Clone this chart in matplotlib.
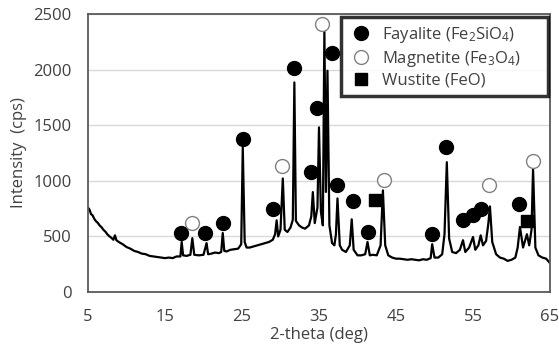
import matplotlib
matplotlib.use("Agg")
import matplotlib.pyplot as plt

plt.rcParams['font.family'] = ['Open Sans', 'DejaVu Sans']
plt.rcParams['mathtext.fontset'] = 'custom'
plt.rcParams['mathtext.rm'] = 'Open Sans'
plt.rcParams['mathtext.it'] = 'Open Sans:italic'

# XRD trace (2-theta, cps)
trace_x = [5.0, 5.2, 5.4, 5.6, 5.8, 6.0, 6.3, 6.5, 6.8, 7.0, 7.3, 7.5, 7.8, 8.0, 8.3,
           8.5, 8.7, 9.0, 9.5, 10.0, 10.5, 11.0, 11.5, 12.0, 12.5, 13.0, 13.5, 14.0,
           14.5, 15.0, 15.5, 16.0, 16.5, 17.0, 17.17, 17.35, 17.8, 18.3, 18.55, 18.8,
           19.4, 20.0, 20.4, 20.6, 21.0, 21.5, 22.0, 22.3, 22.5, 22.7, 23.0, 23.5, 24.0,
           24.5, 24.9, 25.1, 25.35, 25.6, 26.0, 26.5, 27.0, 27.5, 28.0, 28.5, 29.0,
           29.3, 29.5, 29.7, 30.0, 30.3, 30.55, 30.9, 31.3, 31.6, 31.8, 32.0, 32.4,
           32.8, 33.2, 33.7, 34.0, 34.2, 34.45, 34.8, 35.0, 35.25, 35.5, 35.7, 35.9,
           36.1, 36.35, 36.7, 37.0, 37.2, 37.4, 37.7, 38.0, 38.5, 39.0, 39.25, 39.5,
           40.0, 40.5, 41.0, 41.3, 41.6, 42.0, 42.5, 43.0, 43.3, 43.6, 44.0, 44.5, 45.0,
           45.5, 46.0, 46.5, 47.0, 47.5, 48.0, 48.5, 49.0, 49.5, 49.7, 50.0, 50.5,
           51.0, 51.3, 51.6, 51.9, 52.3, 52.8, 53.3, 53.7, 54.0, 54.5, 55.0, 55.3,
           55.7, 56.0, 56.3, 56.7, 57.0, 57.2, 57.5, 58.0, 58.5, 59.0, 59.5, 60.0,
           60.5, 60.8, 61.1, 61.5, 62.0, 62.3, 62.6, 62.8, 63.1, 63.5, 64.0, 64.5, 65.0]
trace_y = [760, 740, 700, 690, 660, 640, 620, 600, 580, 560, 540, 520, 500, 490, 470,
           510, 465, 450, 430, 405, 390, 370, 360, 345, 340, 325, 320, 315,
           310, 305, 310, 305, 320, 320, 450, 330, 325, 335, 484, 335,
           330, 335, 440, 340, 345, 355, 350, 360, 531, 370, 365, 380, 385,
           390, 430, 1300, 450, 400, 400, 410, 420, 430, 440, 450, 470,
           520, 645, 500, 560, 1021, 560, 540, 580, 650, 1885, 640, 600,
           580, 570, 600, 680, 899, 620, 760, 1481, 720, 600, 2350, 900,
           1990, 600, 440, 420, 520, 842, 420, 380, 360, 420, 654, 380,
           330, 330, 340, 450, 330, 335, 330, 420, 914, 420, 330, 310, 300,
           300, 295, 290, 295, 290, 285, 295, 290, 305, 430, 310, 310,
           340, 520, 1168, 480, 360, 350, 380, 466, 360, 400, 495, 380,
           420, 510, 420, 460, 620, 770, 450, 340, 310, 300, 280, 290,
           310, 400, 585, 400, 520, 420, 560, 1108, 400, 330, 310, 300, 260]

# phase markers
fay_x = [17.1, 20.2, 22.5, 25.1, 29.0, 31.8, 34.0, 34.7, 36.65, 37.4, 39.4, 41.3,
         49.7, 51.5, 53.7, 55.0, 56.0, 61.0]
fay_y = [529, 529, 618, 1380, 744, 2016, 1078, 1655, 2148, 965, 818, 540,
         520, 1302, 645, 690, 750, 788]
mag_x = [18.55, 30.15, 35.4, 43.4, 57.1, 62.75]
mag_y = [624, 1129, 2408, 1012, 965, 1174]
wus_x = [42.3, 62.0]
wus_y = [830, 640]

xticks = [5, 15, 25, 35, 45, 55, 65]
yticks = [0, 500, 1000, 1500, 2000, 2500]

fig = plt.figure(figsize=(5.59, 3.51), dpi=100)
ax = fig.add_axes([0.1574, 0.168, 0.8265, 0.792])

ax.plot(trace_x, trace_y, color='black', lw=1.6, zorder=2)
ax.plot(fay_x, fay_y, 'o', ms=10, color='black', ls='none', zorder=3,
        label='Fayalite (Fe$_2$SiO$_4$)')
ax.plot(mag_x, mag_y, 'o', ms=10, mfc='white', mec='#808080', mew=1.0, ls='none',
        zorder=3, label='Magnetite (Fe$_3$O$_4$)')
ax.plot(wus_x, wus_y, 's', ms=9, color='black', ls='none', zorder=3,
        label='Wustite (FeO)')

ax.set_xlim(5, 65)
ax.set_ylim(0, 2500)
ax.set_xticks(xticks)
ax.set_yticks(yticks)
ax.tick_params(length=0, labelsize=12, labelcolor='#404040', pad=12)
ax.yaxis.grid(True, color='#d9d9d9', lw=1)
ax.set_axisbelow(True)
for s in ax.spines.values():
    s.set_color('#595959')
    s.set_linewidth(1.3)

ax.set_xlabel('2-theta (deg)', fontsize=12, color='#404040', labelpad=2)
ax.set_ylabel('Intensity  (cps)', fontsize=12, color='#404040', labelpad=4)

leg = ax.legend(loc='upper left', bbox_to_anchor=(0.548, 0.5, 0.448, 0.489),
                mode='expand', borderaxespad=0,
                fontsize=12, frameon=True, fancybox=False, handletextpad=0.5,
                labelspacing=0.25, borderpad=0.45, handlelength=1.5)
leg.get_frame().set_edgecolor('black')
leg.get_frame().set_linewidth(2.5)
for t in leg.get_texts():
    t.set_color('#404040')

fig.savefig('out.png', dpi=100)
